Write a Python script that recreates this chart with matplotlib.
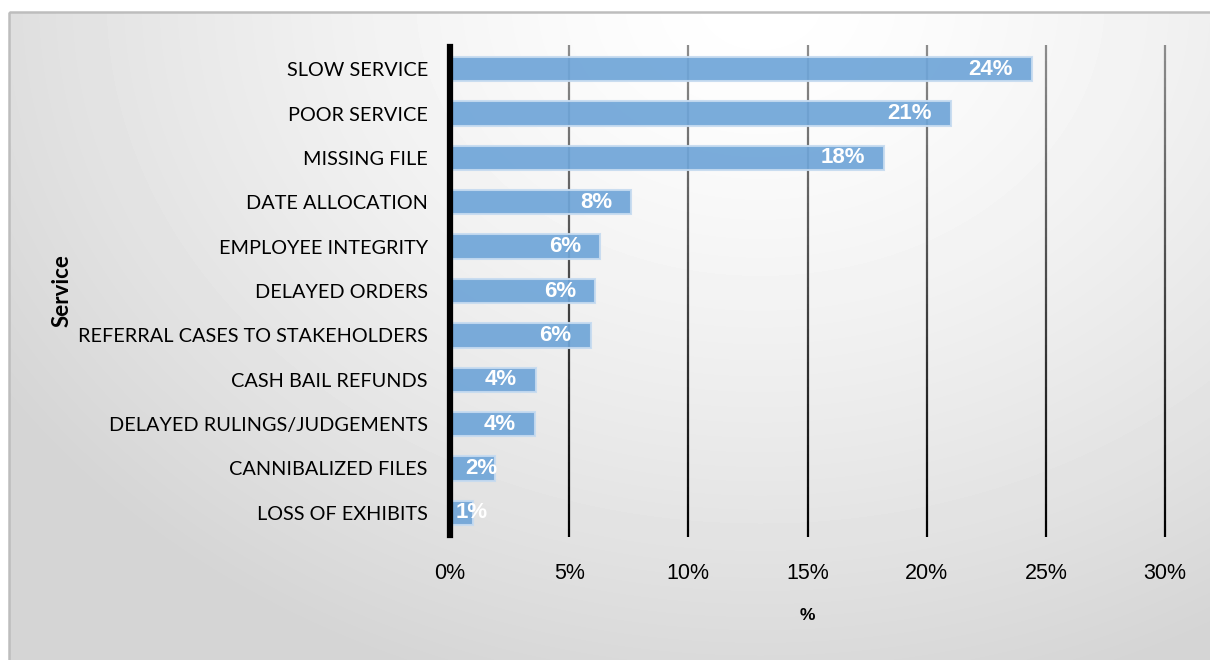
import numpy as np
import matplotlib.pyplot as plt
from matplotlib.collections import LineCollection
from matplotlib.patches import Rectangle

services = [
    "SLOW SERVICE",
    "POOR SERVICE",
    "MISSING FILE",
    "DATE ALLOCATION",
    "EMPLOYEE INTEGRITY",
    "DELAYED ORDERS",
    "REFERRAL CASES TO STAKEHOLDERS",
    "CASH BAIL REFUNDS",
    "DELAYED RULINGS/JUDGEMENTS",
    "CANNIBALIZED FILES",
    "LOSS OF EXHIBITS",
]
shares = [24.4, 21.0, 18.2, 7.6, 6.3, 6.1, 5.9, 3.6, 3.55, 1.9, 0.95]
ticks = [0, 5, 10, 15, 20, 25, 30]

W, H = 1210, 660
fig = plt.figure(figsize=(W / 100, H / 100), dpi=100)
fig.patch.set_facecolor("white")

# soft radial backdrop inside the frame
bg = fig.add_axes([0, 0, 1, 1], zorder=-10)
bg.set_xlim(0, W)
bg.set_ylim(H, 0)
bg.axis("off")
yy, xx = np.mgrid[12:H, 9:W]
d = np.sqrt(((xx - 760) / 900.0) ** 2 + ((yy - 0) / 720.0) ** 2)
d = np.clip(d, 0, 1) ** 1.4
shade = 1.0 - (1.0 - 0.835) * d
bg.imshow(shade, cmap="gray", vmin=0, vmax=1, extent=(9, W, H, 12), aspect="auto")
bg.add_patch(Rectangle((9, 12), W, H, fill=False, edgecolor="#bdbdbd", linewidth=1.8))

ax = fig.add_axes([450 / W, 125 / H, 715 / W, 488 / H])
ax.patch.set_visible(False)
y = np.arange(len(services))

# vertical grid, fading from grey at the top to black at the bottom
ys = np.linspace(-0.55, len(services) - 0.45, 60)
for t in ticks[1:]:
    pts = np.column_stack([np.full_like(ys, t), ys])
    segs = np.stack([pts[:-1], pts[1:]], axis=1)
    frac = np.linspace(0, 1, len(segs))
    g = 0.55 * (1 - frac)
    cols = np.column_stack([g, g, g])
    lc = LineCollection(segs, colors=cols, linewidths=1.6, zorder=1)
    lc.set_clip_on(False)
    ax.add_collection(lc)

ax.barh(y, shares, height=0.55, color="#6fa5d8", edgecolor="#c6dbf0",
        linewidth=1.5, alpha=0.92, zorder=3)

for i, v in enumerate(shares):
    ax.text(max(v - 0.8, 2.0 if v > 1.5 else 1.6), i, f"{round(v)}%",
            ha="right", va="center", color="white", fontsize=16,
            fontweight="bold", family="Liberation Sans", zorder=4)

ax.set_xlim(0, 30)
ax.set_ylim(len(services) - 0.5, -0.5)
ax.set_xticks(ticks)
ax.set_xticklabels([f"{t}%" for t in ticks], fontsize=15.5, family="Liberation Sans")
ax.set_yticks(y)
ax.set_yticklabels(services, fontsize=14.3, family="Lato")
ax.tick_params(axis="x", length=0, pad=20)
ax.tick_params(axis="y", length=0, pad=16)

for side in ["top", "right", "bottom"]:
    ax.spines[side].set_visible(False)
ax.spines["left"].set_linewidth(4.5)
ax.spines["left"].set_color("black")
ax.spines["left"].set_zorder(5)

fig.text(62 / W, 1 - 291 / H, "Service", rotation=90, ha="center", va="center",
         fontsize=16, fontweight="bold", family="Lato")
fig.text(807 / W, 1 - 615 / H, "%", ha="center", va="center",
         fontsize=12.5, fontweight="bold", family="Liberation Sans")

fig.savefig("out.png", dpi=100)
